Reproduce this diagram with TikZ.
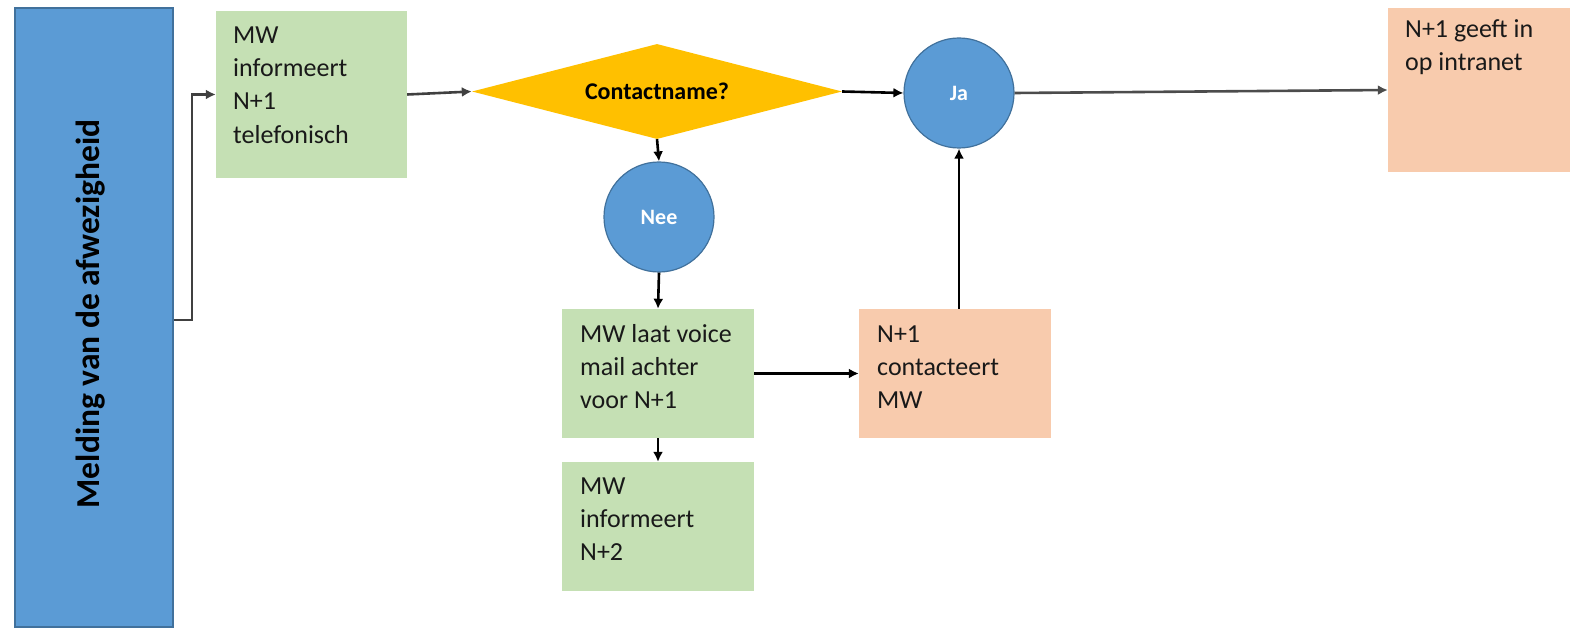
\documentclass[tikz,border=0pt]{standalone}
\usepackage{fontspec}
\setmainfont{Carlito}
\usetikzlibrary{shapes.geometric,arrows.meta}
\definecolor{cblue}{HTML}{5B9BD5}
\definecolor{cblueline}{HTML}{41719C}
\definecolor{cgreen}{HTML}{C5E0B4}
\definecolor{corange}{HTML}{F8CBAD}
\definecolor{cyellow}{HTML}{FFC000}
\tikzset{
  greenbox/.style={draw=none,fill=cgreen,inner sep=0,minimum width=192pt,minimum height=129pt},
  orangebox/.style={draw=none,fill=corange,inner sep=0},
  boxtext/.style={inner sep=0,anchor=north west,align=left,font=\fontsize{26}{33.3}\selectfont,text=black!90},
  bubble/.style={circle,fill=cblue,draw=cblueline,line width=1.2pt,minimum size=110pt,inner sep=0,text=white,font=\fontsize{22}{26}\selectfont\bfseries},
  arr/.style={draw=black,line width=2.6pt,-{Latex[length=10pt,width=10pt]}},
}
\begin{document}
\begin{tikzpicture}[x=1pt,y=-1pt]
\useasboundingbox (0,0) rectangle (1570,628);
% left blue bar
\node[draw=cblueline,fill=cblue,line width=1.8pt,inner sep=0,minimum width=158pt,minimum height=619pt] (blue) at (94,317.5) {};
\node[rotate=90,inner sep=0,font=\fontsize{33.5}{40}\selectfont\bfseries] (bluetext) at (91,314) {Melding van de afwezigheid};
% boxes
\node[greenbox,minimum width=191pt,minimum height=167pt] (g1) at (311.5,94.5) {};
\node[boxtext] (g1t) at (233,23) {\rule{0pt}{20pt}MW\\informeert\\N+1\\telefonisch};
\node[diamond,fill=cyellow,draw=none,inner sep=0,aspect=3.9,minimum width=370pt,minimum height=95pt,font=\fontsize{24}{28}\selectfont\bfseries] (dia) at (657,91.5) {Contactname?};
\node[bubble] (ja) at (959,93) {Ja};
\node[bubble] (nee) at (659,217) {Nee};
\node[orangebox,minimum width=182pt,minimum height=164pt] (o1) at (1479,90) {};
\node[boxtext] (o1t) at (1405,17) {\rule{0pt}{20pt}N+1 geeft in\\op intranet};
\node[greenbox] (g2) at (658,373.5) {};
\node[boxtext] (g2t) at (580,322) {\rule{0pt}{20pt}MW laat voice\\mail achter\\voor N+1};
\node[greenbox] (g3) at (658,526.5) {};
\node[boxtext] (g3t) at (580,474) {\rule{0pt}{20pt}MW\\informeert\\N+2};
\node[orangebox,minimum width=192pt,minimum height=129pt] (o2) at (955,373.5) {};
\node[boxtext] (o2t) at (877,322) {\rule{0pt}{20pt}N+1\\contacteert\\MW};
% connectors
\draw[arr,draw=black!75] (blue.east) ++(0,2.5) -- ++(18,0) |- (g1.west);
\draw[arr,draw=black!75] (g1.east) -- (dia.west);
\draw[arr] (dia.east) -- (ja.west);
\draw[arr,draw=black!70] (ja.east) -- (o1.west);
\draw[arr] (dia.south) -- (nee.north);
\draw[arr] (nee.south) -- (g2.north);
\draw[arr] (g2.south) -- (g3.north);
\draw[arr] (g2.east) -- (o2.west);
\draw[arr] (ja.south |- o2.north) -- (ja.south);
\end{tikzpicture}
\end{document}
